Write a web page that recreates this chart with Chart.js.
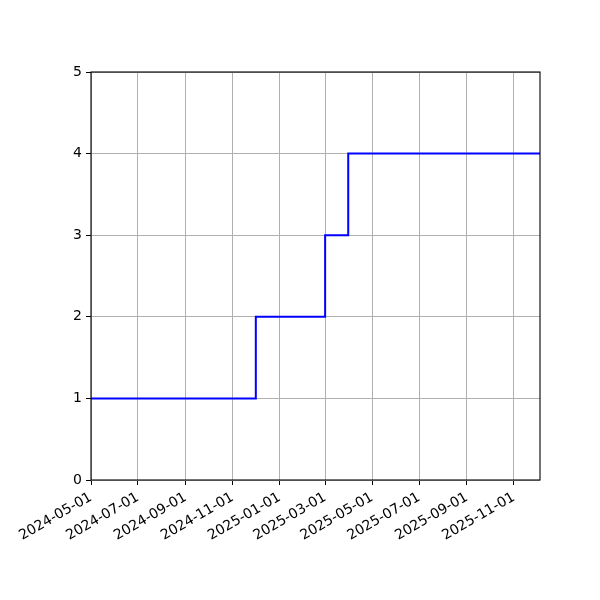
<!DOCTYPE html>
<html><head><meta charset="utf-8">
<script src="https://cdn.jsdelivr.net/npm/chart.js@4"></script>
<style>html,body{margin:0;padding:0;background:#fff}</style>
</head><body>
<canvas id="c" width="600" height="600" style="width:600px;height:600px;display:block"></canvas>
<script>
const stepDates = ['2024-05-01','2024-12-01','2025-03-01','2025-03-31','2025-12-05'];
const stepValues = [1, 2, 3, 4, 4];
const xTickLabels = ['2024-05-01','2024-07-01','2024-09-01','2024-11-01','2025-01-01','2025-03-01','2025-05-01','2025-07-01','2025-09-01','2025-11-01'];
const yTickValues = [0, 1, 2, 3, 4, 5];

const toMs = s => Date.parse(s + 'T00:00:00Z');
const fmt = v => new Date(v).toISOString().slice(0, 10);
const points = stepDates.map((d, i) => ({ x: toMs(d), y: stepValues[i] }));

const frame = {
  id: 'frame',
  afterDatasetsDraw(chart) {
    const { ctx, chartArea: a } = chart;
    ctx.save();
    ctx.strokeStyle = '#000';
    ctx.lineWidth = 1.1;
    ctx.strokeRect(a.left, a.top, a.right - a.left, a.bottom - a.top);
    ctx.restore();
  }
};

const font = { family: 'DejaVu Sans', size: 14 };

new Chart(document.getElementById('c'), {
  type: 'line',
  data: {
    datasets: [{
      data: points,
      borderColor: '#0000ff',
      borderWidth: 2,
      pointRadius: 0,
      stepped: true,
      fill: false,
      tension: 0
    }]
  },
  options: {
    responsive: false,
    animation: false,
    devicePixelRatio: 1,
    layout: { padding: { left: 0, right: 60, top: 72, bottom: 0 } },
    plugins: { legend: { display: false }, tooltip: { enabled: false } },
    scales: {
      x: {
        type: 'linear',
        min: toMs(stepDates[0]),
        max: toMs(stepDates[stepDates.length - 1]),
        afterBuildTicks: s => { s.ticks = xTickLabels.map(t => ({ value: toMs(t) })); },
        afterFit: s => { s.height = 120; },
        border: { display: false },
        grid: { color: '#b0b0b0', lineWidth: 1, tickColor: '#000', tickLength: 5, tickWidth: 1 },
        ticks: {
          autoSkip: false, minRotation: 30, maxRotation: 30, padding: 4,
          color: '#000', font,
          callback: v => fmt(v)
        }
      },
      y: {
        min: 0, max: 5,
        afterBuildTicks: s => { s.ticks = yTickValues.map(v => ({ value: v })); },
        afterFit: s => { s.width = 91; },
        border: { display: false },
        grid: { color: '#b0b0b0', lineWidth: 1, tickColor: '#000', tickLength: 5, tickWidth: 1 },
        ticks: { color: '#000', font, padding: 4, callback: v => String(v) }
      }
    }
  },
  plugins: [frame]
});
</script>
</body></html>
